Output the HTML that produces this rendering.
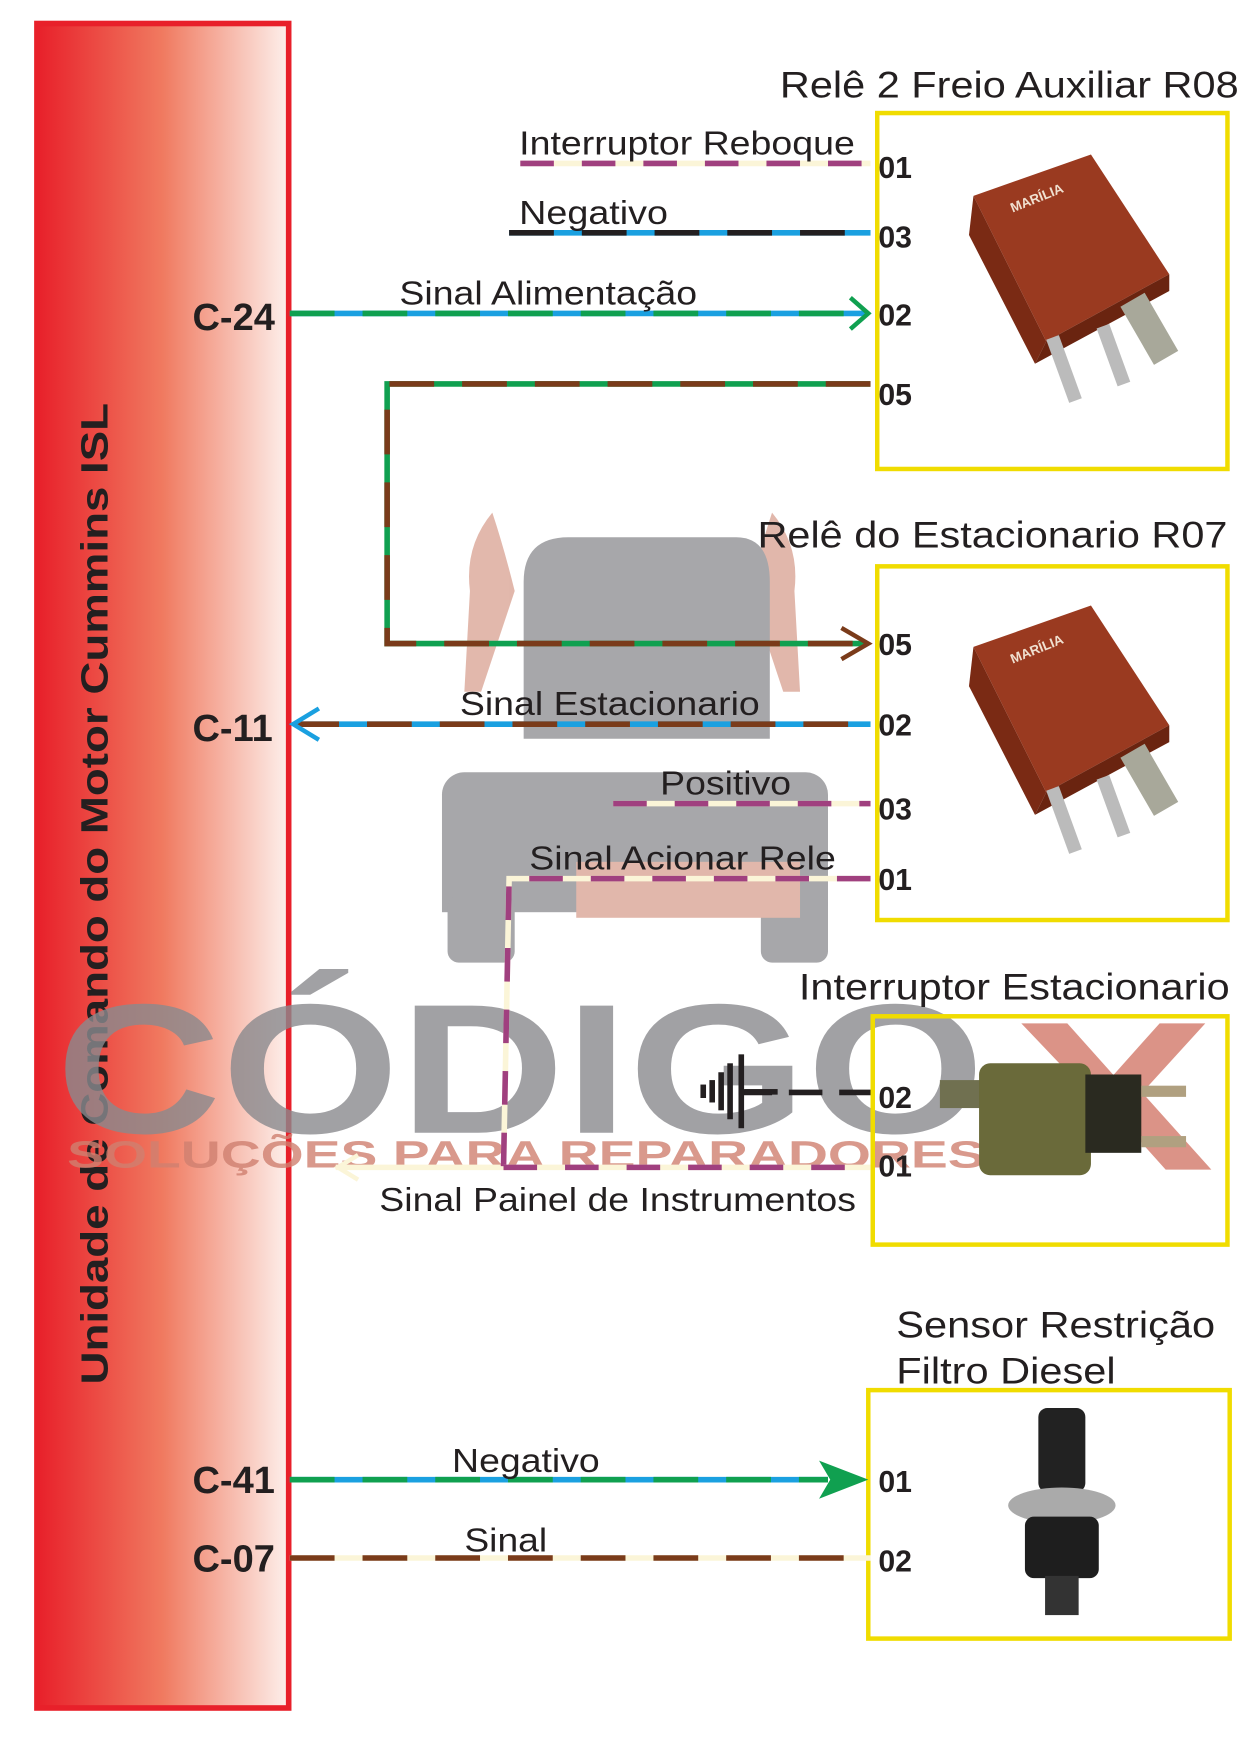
<!DOCTYPE html>
<html><head><meta charset="utf-8"><style>
html,body{margin:0;padding:0;background:#fff;}
svg{display:block;}
text{font-family:"Liberation Sans",sans-serif;}
</style></head><body>
<svg width="1242" height="1755" viewBox="0 0 1110 1568" preserveAspectRatio="none" xmlns="http://www.w3.org/2000/svg">
<defs>
<linearGradient id="rg" x1="0" x2="1" y1="0" y2="0">
<stop offset="0" stop-color="#e8202a"/><stop offset="0.5" stop-color="#f07a60"/><stop offset="1" stop-color="#fdf0ec"/>
</linearGradient>
</defs>
<rect x="0" y="0" width="1110" height="1568" fill="#fff"/>
<!-- ECU -->
<rect x="33" y="21" width="225" height="1505" fill="url(#rg)" stroke="#e8202a" stroke-width="5"/>
<text transform="translate(96,1237) rotate(-90)" font-size="34" font-weight="bold" fill="#231f20" textLength="877" lengthAdjust="spacingAndGlyphs">Unidade de Comando do Motor Cummins ISL</text>

<!-- watermark truck -->
<g opacity="0.75">
<path d="M440 458 q10 30 20 70 l-30 90 h-15 l5-90 q-5-40 20-70z" fill="#d8a090"/>
<path d="M690 458 q-10 30 -20 70 l30 90 h15 l-5-90 q5-40 -20-70z" fill="#d8a090"/>
<path d="M468 520 q0-40 40-40 h150 q30 0 30 40 v140 h-220z" fill="#8a8a8e"/>
<rect x="395" y="690" width="345" height="75" rx="20" fill="#8a8a8e"/>
<rect x="395" y="745" width="345" height="70" fill="#8a8a8e"/>
<rect x="400" y="800" width="60" height="60" rx="10" fill="#8a8a8e"/>
<rect x="680" y="800" width="60" height="60" rx="10" fill="#8a8a8e"/>
<rect x="515" y="770" width="200" height="50" fill="#d8a090"/>
</g>
<text x="50" y="1012" font-size="165" font-weight="bold" fill="#8a8a8e" opacity="0.8" textLength="830" lengthAdjust="spacingAndGlyphs">CÓDIGO</text>
<text x="905" y="1045" font-size="190" font-weight="bold" fill="#d07060" opacity="0.75" textLength="180" lengthAdjust="spacingAndGlyphs">X</text>
<text x="60" y="1043" font-size="34" font-weight="bold" fill="#d08070" opacity="0.8" textLength="820" lengthAdjust="spacingAndGlyphs">SOLUÇÕES PARA REPARADORES</text>

<!-- yellow boxes -->
<g fill="none" stroke="#f0dc00" stroke-width="4">
<rect x="784" y="101" width="313" height="318"/>
<rect x="784" y="506" width="313" height="316"/>
<rect x="780" y="908" width="317" height="204"/>
<rect x="776" y="1242" width="323" height="222"/>
</g>

<!-- titles -->
<g font-size="33" fill="#231f20">
<text x="697" y="87" textLength="410" lengthAdjust="spacingAndGlyphs">Relê 2 Freio Auxiliar R08</text>
<text x="677" y="489" textLength="420" lengthAdjust="spacingAndGlyphs">Relê do Estacionario R07</text>
<text x="714" y="893" textLength="385" lengthAdjust="spacingAndGlyphs">Interruptor Estacionario</text>
<text x="801" y="1195" textLength="285" lengthAdjust="spacingAndGlyphs">Sensor Restrição</text>
<text x="801" y="1236" textLength="196" lengthAdjust="spacingAndGlyphs">Filtro Diesel</text>
</g>

<!-- wires -->
<g stroke-width="5" fill="none">
<line x1="465" y1="146" x2="778" y2="146" stroke="#fbf5d8"/>
<line x1="465" y1="146" x2="778" y2="146" stroke="#a0407f" stroke-dasharray="30 25"/>
<line x1="455" y1="208" x2="778" y2="208" stroke="#1aa0e0"/>
<line x1="455" y1="208" x2="778" y2="208" stroke="#231f20" stroke-dasharray="40 25"/>
<line x1="259" y1="280" x2="774" y2="280" stroke="#1aa0e0"/>
<line x1="259" y1="280" x2="774" y2="280" stroke="#10a050" stroke-dasharray="40 25"/>
<polyline points="760,266 776,280 760,294" stroke="#10a050" stroke-width="4"/>
<polyline points="778,343 346,343 346,575 774,575" stroke="#10a050"/>
<polyline points="778,343 346,343 346,575 774,575" stroke="#7a3b1a" stroke-dasharray="40 25"/>
<polyline points="752,561 776,575 752,589" stroke="#7a3b1a" stroke-width="4"/>
<line x1="263" y1="647" x2="778" y2="647" stroke="#1aa0e0"/>
<line x1="263" y1="647" x2="778" y2="647" stroke="#7a3b1a" stroke-dasharray="40 25"/>
<polyline points="285,633 262,647 285,661" stroke="#1aa0e0" stroke-width="4"/>
<line x1="548" y1="718" x2="778" y2="718" stroke="#fbf5d8"/>
<line x1="548" y1="718" x2="778" y2="718" stroke="#a0407f" stroke-dasharray="30 25"/>
<polyline points="778,785 455,785 450,1043 300,1043" stroke="#fbf5d8"/>
<polyline points="778,785 455,785 450,1043" stroke="#a0407f" stroke-dasharray="30 25"/>
<line x1="450" y1="1043" x2="778" y2="1043" stroke="#fbf5d8"/>
<line x1="450" y1="1043" x2="778" y2="1043" stroke="#a0407f" stroke-dasharray="30 25"/>
<polyline points="320,1032 302,1043 320,1054" stroke="#fbf5d8" stroke-width="4"/>
<line x1="660" y1="976" x2="778" y2="976" stroke="#231f20" stroke-dasharray="30 15"/>
<line x1="259" y1="1322" x2="740" y2="1322" stroke="#1aa0e0"/>
<line x1="259" y1="1322" x2="740" y2="1322" stroke="#10a050" stroke-dasharray="40 25"/>
<line x1="259" y1="1392" x2="778" y2="1392" stroke="#fbf5d8"/>
<line x1="259" y1="1392" x2="778" y2="1392" stroke="#7a3b1a" stroke-dasharray="40 25"/>
</g>
<polygon points="732,1305 776,1322 732,1339 742,1322" fill="#10a050"/>
<!-- ground symbol -->
<g fill="#231f20">
<rect x="660" y="942" width="5" height="66"/>
<rect x="650" y="950" width="5" height="50"/>
<rect x="642" y="958" width="5" height="34"/>
<rect x="634" y="965" width="5" height="20"/>
<rect x="626" y="969" width="5" height="12"/>
<rect x="665" y="973" width="30" height="5"/>
</g>

<!-- wire labels -->
<g font-size="30" fill="#231f20">
<text x="464" y="138" textLength="300" lengthAdjust="spacingAndGlyphs">Interruptor Reboque</text>
<text x="464" y="200" textLength="133" lengthAdjust="spacingAndGlyphs">Negativo</text>
<text x="357" y="272" textLength="266" lengthAdjust="spacingAndGlyphs">Sinal Alimentação</text>
<text x="411" y="639" textLength="268" lengthAdjust="spacingAndGlyphs">Sinal Estacionario</text>
<text x="590" y="710" textLength="117" lengthAdjust="spacingAndGlyphs">Positivo</text>
<text x="473" y="777" textLength="274" lengthAdjust="spacingAndGlyphs">Sinal Acionar Rele</text>
<text x="339" y="1082" textLength="426" lengthAdjust="spacingAndGlyphs">Sinal Painel de Instrumentos</text>
<text x="404" y="1315" textLength="132" lengthAdjust="spacingAndGlyphs">Negativo</text>
<text x="415" y="1386" textLength="74" lengthAdjust="spacingAndGlyphs">Sinal</text>
</g>
<!-- ECU pins -->
<g font-size="34" font-weight="bold" fill="#231f20">
<text x="172" y="295">C-24</text>
<text x="172" y="662">C-11</text>
<text x="172" y="1334">C-41</text>
<text x="172" y="1404">C-07</text>
</g>
<!-- pin numbers -->
<g font-size="27" font-weight="bold" fill="#231f20">
<text x="785" y="159">01</text><text x="785" y="221">03</text><text x="785" y="291">02</text><text x="785" y="362">05</text>
<text x="785" y="585">05</text><text x="785" y="657">02</text><text x="785" y="732">03</text><text x="785" y="795">01</text>
<text x="785" y="990">02</text><text x="785" y="1051">01</text>
<text x="785" y="1333">01</text><text x="785" y="1404">02</text>
</g>

<!-- relays -->
<g id="relay">
<polygon points="870,175 975,138 1045,245 935,305" fill="#9a3a20"/>
<polygon points="870,175 935,305 925,325 866,210" fill="#7a2a14"/>
<polygon points="935,305 1045,245 1045,260 925,325" fill="#6a2410"/>
<rect x="945" y="300" width="12" height="60" fill="#bbb" transform="rotate(-20 950 330)"/>
<rect x="990" y="290" width="12" height="55" fill="#bbb" transform="rotate(-20 995 320)"/>
<rect x="1015" y="265" width="25" height="60" fill="#a8a89a" transform="rotate(-30 1025 295)"/>
<text x="905" y="190" font-size="12" font-weight="bold" fill="#f0e0d0" transform="rotate(-22 905 190)">MARÍLIA</text>
</g>
<use href="#relay" transform="translate(0,403)"/>
<!-- switch -->
<rect x="840" y="965" width="40" height="25" fill="#707050"/>
<rect x="875" y="950" width="100" height="100" rx="10" fill="#6a6a3a"/>
<rect x="970" y="960" width="50" height="70" fill="#2a2a20"/>
<rect x="1020" y="970" width="40" height="10" fill="#b0a080"/>
<rect x="1020" y="1015" width="40" height="10" fill="#b0a080"/>
<!-- sensor -->
<rect x="928" y="1258" width="42" height="75" rx="8" fill="#222"/>
<ellipse cx="949" cy="1345" rx="48" ry="16" fill="#aaa"/>
<rect x="916" y="1355" width="66" height="55" rx="8" fill="#1e1e1e"/>
<rect x="934" y="1408" width="30" height="35" fill="#333"/>
</svg>
</body></html>
